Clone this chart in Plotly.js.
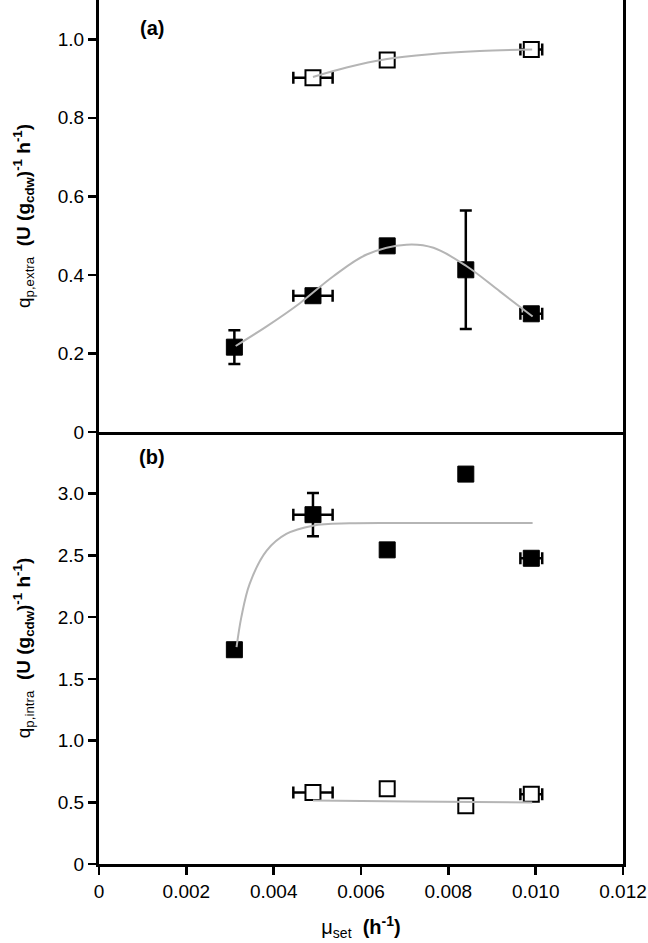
<!DOCTYPE html>
<html>
<head>
<meta charset="utf-8">
<script src="https://cdn.plot.ly/plotly-3.0.1.min.js"></script>
<style>html,body{margin:0;padding:0;background:#fff;}#chart{width:648px;height:943px;}</style>
</head>
<body>
<div id="chart"></div>
<script>
// ---- data ----
const muFilled = [0.0031, 0.0049, 0.0066, 0.0084, 0.0099];
const muFilledErrX = [0, 0.00045, 0, 0, 0.00025];

const qExtraFilled = [0.216, 0.347, 0.474, 0.413, 0.301];
const qExtraFilledErrY = [0.043, 0, 0, 0.151, 0];

const muExtraOpen = [0.0049, 0.0066, 0.0099];
const muExtraOpenErrX = [0.00045, 0, 0.00025];
const qExtraOpen = [0.902, 0.947, 0.974];

const qIntraFilled = [1.736, 2.830, 2.545, 3.159, 2.477];
const qIntraFilledErrY = [0, 0.175, 0, 0, 0];

const muIntraOpen = [0.0049, 0.0066, 0.0084, 0.0099];
const muIntraOpenErrX = [0.00045, 0, 0, 0.00025];
const qIntraOpen = [0.580, 0.609, 0.471, 0.566];

// fitted curves
const fitExtraFilledX = [0.00313, 0.00384, 0.0046, 0.00536, 0.00613, 0.00704, 0.00766, 0.00842, 0.00918, 0.00993];
const fitExtraFilledY = [0.219, 0.269, 0.328, 0.396, 0.452, 0.477, 0.469, 0.422, 0.358, 0.294];
const fitExtraOpenX = [0.0049, 0.00567, 0.00656, 0.00758, 0.00872, 0.00992];
const fitExtraOpenY = [0.904, 0.928, 0.949, 0.962, 0.970, 0.974];
const fitIntraFilledX = [0.00315, 0.00326, 0.00345, 0.00384, 0.00429, 0.0049, 0.00574, 0.00689, 0.00993];
const fitIntraFilledY = [1.757, 2.0, 2.27, 2.539, 2.674, 2.741, 2.760, 2.763, 2.763];
const fitIntraOpenX = [0.0049, 0.00713, 0.00992];
const fitIntraOpenY = [0.515, 0.506, 0.499];

// tick labels
const xTickVals = [0, 0.002, 0.004, 0.006, 0.008, 0.010, 0.012];
const xTickText = ['0', '0.002', '0.004', '0.006', '0.008', '0.010', '0.012'];
const yExtraTickVals = [0, 0.2, 0.4, 0.6, 0.8, 1.0];
const yExtraTickText = ['0', '0.2', '0.4', '0.6', '0.8', '1.0'];
const yIntraTickVals = [0, 0.5, 1.0, 1.5, 2.0, 2.5, 3.0];
const yIntraTickText = ['0', '0.5', '1.0', '1.5', '2.0', '2.5', '3.0'];

// ---- styling ----
const FONT = 'Liberation Sans, Arial, sans-serif';
const errStyle = {type: 'data', visible: true, color: '#000', thickness: 2.5, width: 6};
function errArr(a) { return Object.assign({array: a}, errStyle); }
const filledMarker = {symbol: 'square', size: 16, color: '#000', line: {color: '#000', width: 1}};
const openMarker = {symbol: 'square', size: 15, color: '#fff', line: {color: '#000', width: 2}};
const fitLine = {color: '#b5b5b5', width: 2, shape: 'spline', smoothing: 1};

const traces = [
  // panel (a)
  {x: muFilled, y: qExtraFilled, xaxis: 'x2', yaxis: 'y2', mode: 'markers', type: 'scatter',
   marker: filledMarker, error_y: errArr(qExtraFilledErrY), error_x: errArr(muFilledErrX), showlegend: false},
  {x: muExtraOpen, y: qExtraOpen, xaxis: 'x2', yaxis: 'y2', mode: 'markers', type: 'scatter',
   marker: openMarker, error_x: errArr(muExtraOpenErrX), showlegend: false},
  {x: fitExtraFilledX, y: fitExtraFilledY, xaxis: 'x2', yaxis: 'y2', mode: 'lines', type: 'scatter',
   line: fitLine, showlegend: false},
  {x: fitExtraOpenX, y: fitExtraOpenY, xaxis: 'x2', yaxis: 'y2', mode: 'lines', type: 'scatter',
   line: fitLine, showlegend: false},
  // panel (b)
  {x: muFilled, y: qIntraFilled, xaxis: 'x', yaxis: 'y', mode: 'markers', type: 'scatter',
   marker: filledMarker, error_y: errArr(qIntraFilledErrY), error_x: errArr(muFilledErrX), showlegend: false},
  {x: muIntraOpen, y: qIntraOpen, xaxis: 'x', yaxis: 'y', mode: 'markers', type: 'scatter',
   marker: openMarker, error_x: errArr(muIntraOpenErrX), showlegend: false},
  {x: fitIntraFilledX, y: fitIntraFilledY, xaxis: 'x', yaxis: 'y', mode: 'lines', type: 'scatter',
   line: fitLine, showlegend: false},
  {x: fitIntraOpenX, y: fitIntraOpenY, xaxis: 'x', yaxis: 'y', mode: 'lines', type: 'scatter',
   line: fitLine, showlegend: false}
];

const axisCommon = {
  showgrid: false, zeroline: false, showline: true, linecolor: '#000', linewidth: 3,
  ticks: 'outside', ticklen: 8, tickwidth: 2.5, tickcolor: '#000',
  tickfont: {family: FONT, size: 19, color: '#000'}
};
const titleFont = {family: FONT, size: 19, color: '#000'};

const layout = {
  width: 648, height: 943,
  margin: {l: 99, r: 25, t: 0, b: 79},
  paper_bgcolor: '#fff', plot_bgcolor: '#fff',
  font: {family: FONT, color: '#000'},
  xaxis: Object.assign({}, axisCommon, {
    domain: [0, 1], range: [0, 0.012], anchor: 'y',
    tickmode: 'array', tickvals: xTickVals, ticktext: xTickText,
    ticklabeloverflow: 'allow',
    title: {text: 'μ<sub>set</sub>  <b>(h<sup>-1</sup>)</b>', font: {family: FONT, size: 20, color: '#000'}, standoff: 20}
  }),
  xaxis2: Object.assign({}, axisCommon, {
    domain: [0, 1], range: [0, 0.012], anchor: 'y2',
    ticks: '', showticklabels: false
  }),
  yaxis: Object.assign({}, axisCommon, {
    domain: [0, 0.5], range: [0, 3.5], anchor: 'x', mirror: true,
    tickmode: 'array', tickvals: yIntraTickVals, ticktext: yIntraTickText,
    title: {text: 'q<sub>p,intra</sub>  <b>(U (g<sub>cdw</sub>)<sup>-1</sup> h<sup>-1</sup>)</b>', font: titleFont, standoff: 23}
  }),
  yaxis2: Object.assign({}, axisCommon, {
    domain: [0.5, 1], range: [0, 1.1], anchor: 'x2', mirror: true,
    tickmode: 'array', tickvals: yExtraTickVals, ticktext: yExtraTickText,
    title: {text: 'q<sub>p,extra</sub>  <b>(U (g<sub>cdw</sub>)<sup>-1</sup> h<sup>-1</sup>)</b>', font: titleFont, standoff: 23}
  }),
  annotations: [
    {text: '<b>(a)</b>', xref: 'paper', yref: 'paper', x: 0.101, y: 0.9676, showarrow: false,
     xanchor: 'center', yanchor: 'middle', font: {family: FONT, size: 20, color: '#000'}},
    {text: '<b>(b)</b>', xref: 'paper', yref: 'paper', x: 0.101, y: 0.471, showarrow: false,
     xanchor: 'center', yanchor: 'middle', font: {family: FONT, size: 20, color: '#000'}}
  ]
};

Plotly.newPlot('chart', traces, layout, {displayModeBar: false, staticPlot: true});
</script>
</body>
</html>
